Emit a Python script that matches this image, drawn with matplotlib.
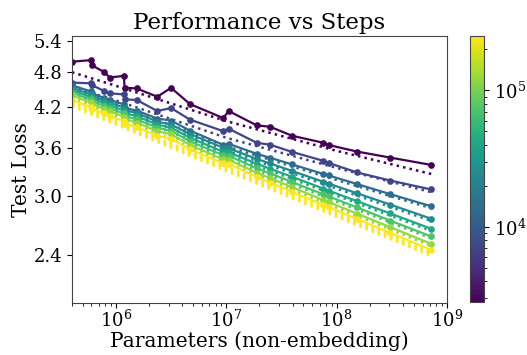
import numpy as np
import matplotlib
matplotlib.use('Agg')
import matplotlib.pyplot as plt
from matplotlib.colors import LogNorm
from matplotlib.ticker import FixedLocator, NullLocator, FixedFormatter

plt.rcParams['font.family'] = 'DejaVu Serif'
plt.rcParams['mathtext.fontset'] = 'dejavuserif'

# model sizes (non-embedding params)
params = [4.0e5, 5.9e5, 6.1e5, 7.8e5, 8.8e5, 1.18e6, 1.2e6, 1.54e6, 2.37e6, 3.16e6, 4.69e6,
          9.4e6, 1.05e7, 1.89e7, 2.5e7, 3.93e7, 7.6e7, 8.44e7, 1.53e8, 3.06e8, 7.18e8]

steps = [2800, 7000, 13500, 23000, 41000, 71000, 122000, 250000]

loss_s1 = [4.99, 5.02, 4.92, 4.80, 4.70, 4.73, 4.52, 4.51, 4.37, 4.52, 4.25,
           4.03, 4.14, 3.92, 3.90, 3.77, 3.67, 3.64, 3.55, 3.47, 3.375]
loss_s2 = [4.610, 4.598, 4.563, 4.468, 4.426, 4.409, 4.325, 4.317, 4.140, 4.187, 4.007,
           3.835, 3.872, 3.670, 3.643, 3.546, 3.427, 3.401, 3.280, 3.181, 3.075]
loss_s3 = [4.563, 4.459, 4.426, 4.350, 4.317, 4.244, 4.187, 4.147, 4.023, 3.992, 3.843,
           3.642, 3.656, 3.520, 3.467, 3.382, 3.261, 3.243, 3.139, 3.021, 2.886]
loss_s4 = [4.523, 4.409, 4.384, 4.309, 4.273, 4.195, 4.155, 4.108, 3.977, 3.932, 3.793,
           3.601, 3.594, 3.452, 3.394, 3.299, 3.165, 3.145, 3.031, 2.904, 2.753]
loss_s5 = [4.481, 4.367, 4.342, 4.267, 4.228, 4.147, 4.108, 4.060, 3.932, 3.887, 3.741,
           3.546, 3.540, 3.390, 3.326, 3.227, 3.085, 3.062, 2.942, 2.808, 2.650]
loss_s6 = [4.438, 4.325, 4.301, 4.220, 4.181, 4.101, 4.062, 4.010, 3.887, 3.843, 3.690,
           3.500, 3.493, 3.332, 3.268, 3.164, 3.018, 2.996, 2.873, 2.733, 2.574]
loss_s7 = [4.392, 4.276, 4.252, 4.171, 4.133, 4.054, 4.015, 3.962, 3.835, 3.792, 3.638,
           3.447, 3.440, 3.276, 3.209, 3.103, 2.954, 2.932, 2.807, 2.666, 2.503]
loss_s8 = [4.314, 4.204, 4.179, 4.101, 4.063, 3.985, 3.947, 3.896, 3.770, 3.727, 3.580,
           3.395, 3.388, 3.223, 3.156, 3.049, 2.900, 2.877, 2.750, 2.609, 2.447]
losses = [loss_s1, loss_s2, loss_s3, loss_s4, loss_s5, loss_s6, loss_s7, loss_s8]

# fitted curves (dotted)
fit_params = [4.0e5, 1e6, 1e7, 1e8, 7.2e8]
fit_s1 = [4.795, 4.554, 3.985, 3.560, 3.261]
fit_s2 = [4.528, 4.309, 3.741, 3.337, 3.044]
fit_s3 = [4.528, 4.252, 3.622, 3.187, 2.864]
fit_s4 = [4.485, 4.204, 3.566, 3.085, 2.730]
fit_s5 = [4.443, 4.155, 3.513, 3.004, 2.628]
fit_s6 = [4.401, 4.108, 3.460, 2.936, 2.554]
fit_s7 = [4.359, 4.062, 3.408, 2.870, 2.482]
fit_s8 = [4.285, 4.000, 3.356, 2.821, 2.431]
fits = [fit_s1, fit_s2, fit_s3, fit_s4, fit_s5, fit_s6, fit_s7, fit_s8]
fit_extra = [[4.261, 3.977, 3.337, 2.805, 2.417],
             [4.236, 3.954, 3.318, 2.789, 2.403],
             [4.212, 3.932, 3.299, 2.773, 2.390]]

norm = LogNorm(vmin=min(steps), vmax=max(steps))
cmap = plt.get_cmap('viridis')

fig = plt.figure(figsize=(5.27, 3.55), dpi=100)
ax = fig.add_axes([0.1366, 0.1465, 0.7116, 0.752])
cax = fig.add_axes([0.892, 0.149, 0.0266, 0.749])

for s, l, f in zip(steps, losses, fits):
    c = cmap(norm(s))
    ax.plot(params, l, '-o', color=c, lw=1.6, ms=3.8)
    ax.plot(fit_params, f, ':', color=c, lw=1.8)
for f in fit_extra:
    ax.plot(fit_params, f, ':', color=cmap(1.0), lw=1.8)

ax.set_xscale('log')
ax.set_yscale('log')
ax.set_xlim(4.0e5, 1e9)
ax.set_ylim(2.0, 5.5)
yt = [2.4, 3.0, 3.6, 4.2, 4.8, 5.4]
ax.yaxis.set_major_locator(FixedLocator(yt))
ax.yaxis.set_major_formatter(FixedFormatter(['%.1f' % v for v in yt]))
ax.yaxis.set_minor_locator(NullLocator())
ax.tick_params(labelsize=13)
ax.tick_params(axis='x', pad=1.5)
ax.set_title('Performance vs Steps', fontsize=16.5, pad=5)
ax.set_xlabel('Parameters (non-embedding)', fontsize=14.5, labelpad=0)
ax.set_ylabel('Test Loss', fontsize=14.5, labelpad=2)
for sp in ax.spines.values():
    sp.set_color('#444444')

sm = plt.cm.ScalarMappable(norm=norm, cmap=cmap)
cb = fig.colorbar(sm, cax=cax)
cb.ax.tick_params(labelsize=13)
cb.outline.set_edgecolor('#444444')

fig.savefig('out.png', dpi=100)
